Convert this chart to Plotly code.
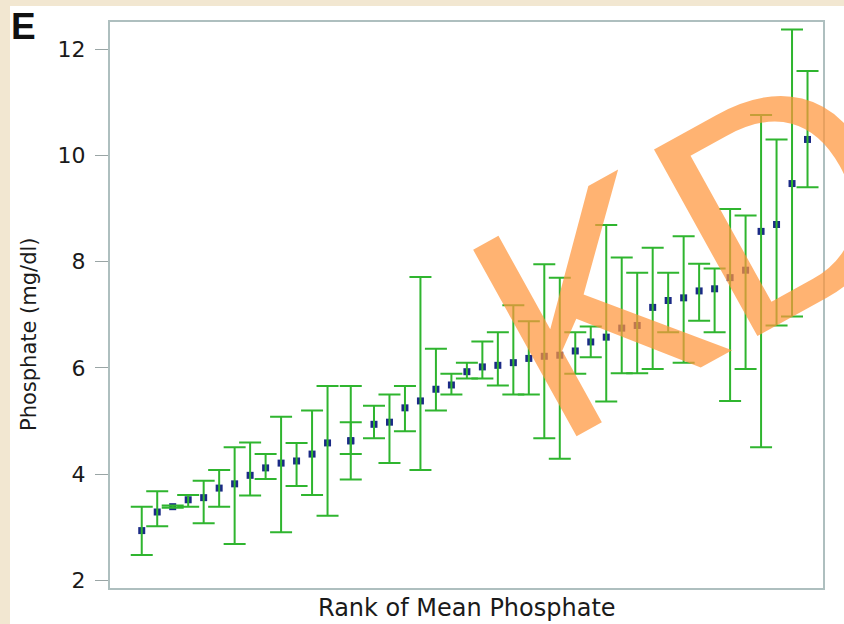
import plotly.graph_objects as go

# Clinic rank (ties share the averaged rank), mean phosphate and its range (mg/dl)
rank = [1, 2, 3, 4, 5, 6, 7, 8, 9, 10, 11, 12, 13, 14.5, 14.5, 16, 17, 18, 19, 20, 21, 22,
        23, 24, 25, 26, 27, 28, 29, 30, 31, 32, 33, 34, 35, 36, 37, 38, 39, 40, 41, 42, 43, 44]
mean = [2.94, 3.29, 3.39, 3.52, 3.56, 3.74, 3.82, 3.98, 4.12, 4.21, 4.25, 4.38, 4.59, 4.63, 4.63,
        4.94, 4.98, 5.25, 5.38, 5.60, 5.68, 5.93, 6.02, 6.05, 6.10, 6.18, 6.22, 6.24, 6.32, 6.49,
        6.58, 6.75, 6.80, 7.14, 7.27, 7.32, 7.45, 7.49, 7.70, 7.84, 8.57, 8.70, 9.47, 10.30]
lower = [2.48, 3.02, 3.37, 3.39, 3.08, 3.39, 2.69, 3.60, 3.91, 2.91, 3.78, 3.61, 3.22, 3.90, 4.38,
         4.68, 4.21, 4.81, 4.08, 5.20, 5.50, 5.80, 5.80, 5.67, 5.50, 5.50, 4.68, 4.29, 5.89, 6.20,
         5.37, 5.90, 5.90, 5.98, 6.67, 6.10, 6.89, 6.67, 5.38, 5.98, 4.51, 6.80, 6.97, 9.40]
upper = [3.39, 3.68, 3.41, 3.61, 3.88, 4.08, 4.51, 4.60, 4.38, 5.08, 4.59, 5.20, 5.66, 5.66, 4.98,
         5.29, 5.50, 5.66, 7.71, 6.36, 5.89, 6.10, 6.50, 6.67, 7.18, 6.88, 7.95, 7.70, 6.67, 6.78,
         8.69, 8.08, 7.79, 8.26, 7.79, 8.48, 7.96, 7.87, 8.99, 8.87, 10.76, 10.30, 12.37, 11.59]

y_ticks = [2, 4, 6, 8, 10, 12]

W, H = 844, 624
L, R, T, B = 110, 21, 22, 36
PW, PH = W - L - R, H - T - B


def px(x):
    return (x - L) / PW


def py(y):
    return (H - B - y) / PH


err_plus = [u - m for u, m in zip(upper, mean)]
err_minus = [m - lo for m, lo in zip(mean, lower)]

fig = go.Figure()

# mean markers
fig.add_trace(go.Scatter(
    x=rank, y=mean, mode="markers",
    marker=dict(symbol="square", size=7, color="#1b2a86"),
    showlegend=False, hoverinfo="skip",
))

# range bars drawn over the markers
fig.add_trace(go.Scatter(
    x=rank, y=mean, mode="markers",
    marker=dict(size=1, color="rgba(0,0,0,0)"),
    error_y=dict(type="data", symmetric=False, array=err_plus, arrayminus=err_minus,
                 color="#2fb52f", thickness=2, width=11),
    showlegend=False, hoverinfo="skip",
))

fig.update_xaxes(
    range=[-1.05, 45.0], showgrid=False, zeroline=False,
    showticklabels=False, ticks="",
    showline=True, mirror=True, linecolor="#aebfbf", linewidth=2,
)
fig.update_yaxes(
    range=[1.86, 12.51], tickvals=y_ticks, ticktext=[str(v) for v in y_ticks],
    showgrid=False, zeroline=False,
    ticks="outside", ticklen=13, tickwidth=1, tickcolor="#9aa5a5",
    ticklabelstandoff=5,
    tickfont=dict(family="DejaVu Sans", size=22, color="#1a1a1a"),
    showline=True, mirror=True, linecolor="#aebfbf", linewidth=2,
)

annotations = [
    dict(text="E", x=px(9), y=py(27), xref="paper", yref="paper",
         xanchor="left", yanchor="middle", showarrow=False,
         font=dict(family="Liberation Sans", size=37, color="#111111", weight="bold")),
    dict(text="Phosphate (mg/dl)", x=px(29), y=py(334), xref="paper", yref="paper",
         xanchor="center", yanchor="middle", textangle=-90, showarrow=False,
         font=dict(family="DejaVu Sans", size=21, color="#1a1a1a")),
    dict(text="Rank of Mean Phosphate", x=0.5, y=py(608), xref="paper", yref="paper",
         xanchor="center", yanchor="middle", showarrow=False,
         font=dict(family="DejaVu Sans", size=24, color="#1a1a1a")),
    dict(text="KD", x=px(690), y=py(250), xref="paper", yref="paper",
         xanchor="center", yanchor="middle", textangle=-29, showarrow=False,
         font=dict(family="Liberation Sans", size=310, color="rgba(255,150,60,0.72)")),
]

shapes = [
    dict(type="rect", xref="paper", yref="paper", layer="below",
         x0=px(10), x1=px(W + 5), y0=py(H + 5), y1=py(6),
         fillcolor="white", line=dict(width=0)),
]

fig.update_layout(
    width=W, height=H,
    margin=dict(l=L, r=R, t=T, b=B),
    paper_bgcolor="#f2e7d1", plot_bgcolor="white",
    annotations=annotations, shapes=shapes,
)

fig.write_html("out.html")
